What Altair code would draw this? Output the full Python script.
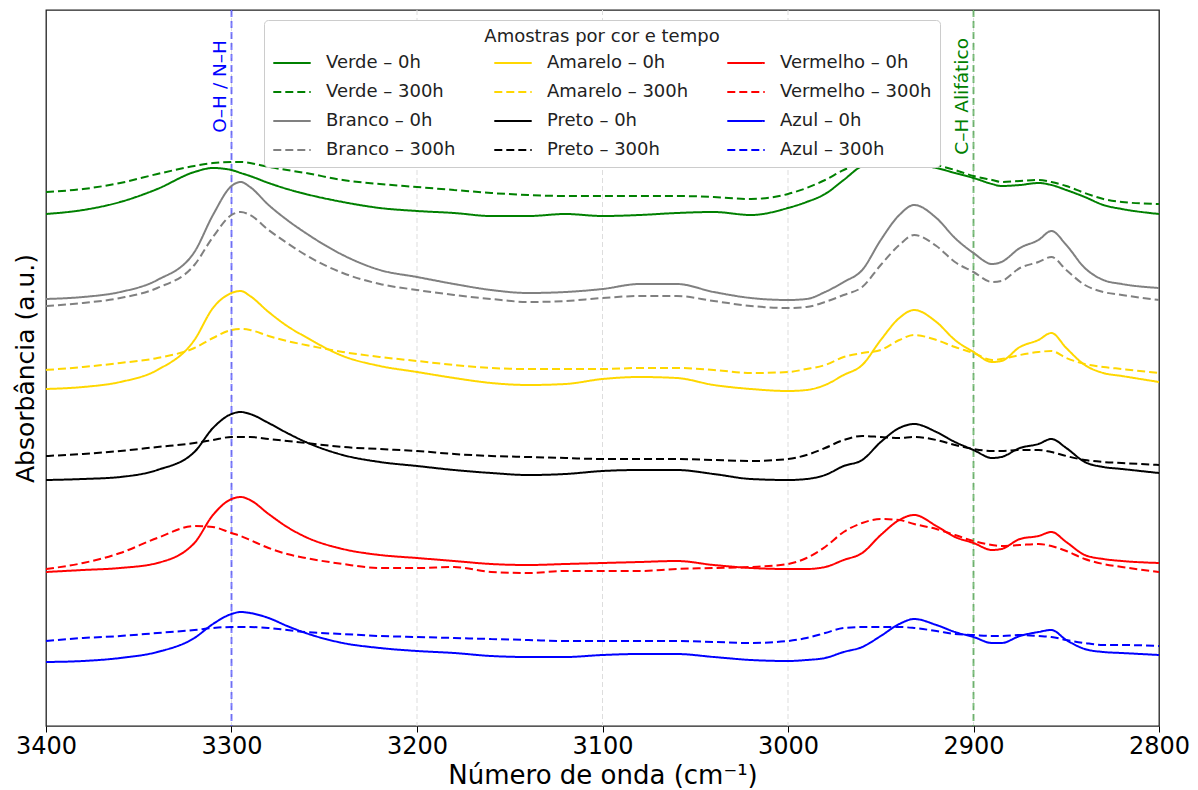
import altair as alt
import pandas as pd

# Wavenumber sample points (cm^-1)
onda = [3400, 3380, 3360, 3340, 3320, 3310, 3300, 3295, 3290, 3280,
        3270, 3260, 3240, 3220, 3200, 3180, 3160, 3140, 3120, 3100,
        3080, 3060, 3040, 3020, 3000, 2990, 2980, 2970, 2960, 2950,
        2940, 2932, 2920, 2910, 2900, 2890, 2885, 2875, 2865, 2858,
        2850, 2840, 2830, 2820, 2800]

# Absorbance (a.u., stacked offsets as plotted)
verde_0h = [5.12, 5.16, 5.24, 5.37, 5.54, 5.58, 5.56, 5.53, 5.50, 5.43,
            5.37, 5.32, 5.24, 5.18, 5.15, 5.13, 5.10, 5.10, 5.12, 5.10,
            5.11, 5.13, 5.14, 5.11, 5.18, 5.24, 5.32, 5.46, 5.60, 5.64,
            5.64, 5.62, 5.58, 5.53, 5.48, 5.42, 5.40, 5.41, 5.43, 5.41,
            5.36, 5.29, 5.21, 5.17, 5.12]
verde_300h = [5.34, 5.37, 5.43, 5.52, 5.60, 5.63, 5.64, 5.64, 5.63, 5.59,
              5.56, 5.53, 5.46, 5.42, 5.39, 5.36, 5.33, 5.31, 5.30, 5.30,
              5.30, 5.30, 5.29, 5.27, 5.32, 5.38, 5.46, 5.56, 5.63, 5.66,
              5.66, 5.65, 5.61, 5.56, 5.50, 5.46, 5.44, 5.45, 5.46, 5.44,
              5.40, 5.33, 5.27, 5.24, 5.22]
branco_0h = [4.27, 4.29, 4.34, 4.46, 4.74, 5.11, 5.40, 5.44, 5.39, 5.21,
             5.06, 4.93, 4.71, 4.56, 4.49, 4.42, 4.36, 4.33, 4.34, 4.37,
             4.42, 4.42, 4.34, 4.28, 4.26, 4.27, 4.34, 4.44, 4.56, 4.86,
             5.11, 5.21, 5.08, 4.88, 4.73, 4.62, 4.64, 4.78, 4.86, 4.95,
             4.81, 4.58, 4.46, 4.42, 4.38]
branco_300h = [4.20, 4.23, 4.28, 4.38, 4.61, 4.89, 5.11, 5.14, 5.11, 4.96,
               4.83, 4.71, 4.53, 4.42, 4.36, 4.31, 4.27, 4.24, 4.25, 4.28,
               4.30, 4.30, 4.25, 4.20, 4.18, 4.19, 4.24, 4.31, 4.39, 4.61,
               4.81, 4.91, 4.80, 4.64, 4.54, 4.44, 4.45, 4.58, 4.64, 4.69,
               4.56, 4.41, 4.34, 4.31, 4.26]
amarelo_0h = [3.37, 3.39, 3.44, 3.56, 3.86, 4.18, 4.33, 4.35, 4.30, 4.14,
              4.00, 3.89, 3.70, 3.60, 3.54, 3.48, 3.43, 3.41, 3.42, 3.47,
              3.49, 3.48, 3.41, 3.37, 3.35, 3.36, 3.41, 3.51, 3.61, 3.86,
              4.08, 4.16, 4.04, 3.86, 3.74, 3.64, 3.65, 3.79, 3.86, 3.93,
              3.78, 3.61, 3.53, 3.50, 3.44]
amarelo_300h = [3.56, 3.59, 3.63, 3.68, 3.78, 3.88, 3.96, 3.97, 3.96, 3.90,
                3.85, 3.81, 3.74, 3.69, 3.65, 3.61, 3.58, 3.57, 3.57, 3.57,
                3.58, 3.58, 3.56, 3.53, 3.54, 3.57, 3.61, 3.69, 3.73, 3.76,
                3.86, 3.91, 3.86, 3.79, 3.73, 3.66, 3.67, 3.71, 3.74, 3.75,
                3.68, 3.62, 3.59, 3.57, 3.53]
preto_0h = [2.46, 2.47, 2.49, 2.56, 2.74, 2.98, 3.12, 3.14, 3.12, 3.03,
            2.93, 2.84, 2.71, 2.64, 2.60, 2.56, 2.53, 2.51, 2.52, 2.55,
            2.56, 2.56, 2.52, 2.47, 2.46, 2.47, 2.51, 2.60, 2.66, 2.84,
            2.98, 3.02, 2.94, 2.84, 2.76, 2.68, 2.69, 2.78, 2.82, 2.87,
            2.78, 2.64, 2.59, 2.57, 2.53]
preto_300h = [2.70, 2.72, 2.75, 2.79, 2.83, 2.86, 2.89, 2.89, 2.89, 2.87,
              2.85, 2.83, 2.79, 2.77, 2.75, 2.72, 2.70, 2.69, 2.68, 2.67,
              2.67, 2.67, 2.66, 2.65, 2.67, 2.71, 2.78, 2.86, 2.90, 2.89,
              2.88, 2.89, 2.86, 2.81, 2.77, 2.75, 2.75, 2.76, 2.76, 2.74,
              2.70, 2.66, 2.64, 2.63, 2.61]
vermelho_0h = [1.54, 1.56, 1.58, 1.63, 1.83, 2.11, 2.27, 2.29, 2.26, 2.12,
               1.99, 1.89, 1.77, 1.71, 1.68, 1.65, 1.62, 1.61, 1.62, 1.63,
               1.64, 1.65, 1.61, 1.58, 1.57, 1.57, 1.59, 1.66, 1.73, 1.91,
               2.06, 2.11, 2.00, 1.89, 1.83, 1.76, 1.77, 1.87, 1.90, 1.94,
               1.84, 1.71, 1.67, 1.65, 1.63]
vermelho_300h = [1.57, 1.63, 1.73, 1.88, 2.00, 1.99, 1.93, 1.90, 1.86, 1.78,
                 1.72, 1.68, 1.62, 1.58, 1.58, 1.59, 1.54, 1.53, 1.55, 1.55,
                 1.55, 1.57, 1.58, 1.59, 1.62, 1.68, 1.79, 1.94, 2.03, 2.07,
                 2.06, 2.02, 1.97, 1.91, 1.85, 1.81, 1.80, 1.81, 1.82, 1.80,
                 1.75, 1.67, 1.62, 1.59, 1.54]
azul_0h = [0.64, 0.65, 0.68, 0.74, 0.88, 1.02, 1.12, 1.14, 1.13, 1.08,
           1.00, 0.93, 0.83, 0.78, 0.75, 0.73, 0.70, 0.69, 0.69, 0.71,
           0.72, 0.72, 0.69, 0.66, 0.65, 0.66, 0.68, 0.74, 0.79, 0.90,
           1.02, 1.07, 1.01, 0.94, 0.89, 0.83, 0.83, 0.90, 0.94, 0.96,
           0.86, 0.77, 0.74, 0.73, 0.71]
azul_300h = [0.85, 0.88, 0.90, 0.93, 0.96, 0.98, 0.99, 0.99, 0.99, 0.98,
             0.96, 0.94, 0.92, 0.90, 0.89, 0.88, 0.87, 0.86, 0.85, 0.85,
             0.85, 0.85, 0.84, 0.83, 0.85, 0.88, 0.93, 0.98, 0.99, 0.99,
             0.99, 0.98, 0.95, 0.92, 0.91, 0.90, 0.90, 0.91, 0.90, 0.89,
             0.86, 0.83, 0.81, 0.81, 0.80]

series = {
    "Verde – 0h": verde_0h, "Verde – 300h": verde_300h,
    "Branco – 0h": branco_0h, "Branco – 300h": branco_300h,
    "Amarelo – 0h": amarelo_0h, "Amarelo – 300h": amarelo_300h,
    "Preto – 0h": preto_0h, "Preto – 300h": preto_300h,
    "Vermelho – 0h": vermelho_0h, "Vermelho – 300h": vermelho_300h,
    "Azul – 0h": azul_0h, "Azul – 300h": azul_300h,
}

legend_order = list(series.keys())
cor_base = {"Verde": "green", "Branco": "gray", "Amarelo": "gold",
            "Preto": "black", "Vermelho": "red", "Azul": "blue"}
legend_colors = [cor_base[s.split(" – ")[0]] for s in legend_order]
legend_dashes = [[8, 4] if s.endswith("300h") else [1, 0] for s in legend_order]

rows = []
for nome, vals in series.items():
    for xo, v in zip(onda, vals):
        rows.append({"onda": xo, "absorbancia": v, "serie": nome})
df = pd.DataFrame(rows)

x_ticks = [3400, 3300, 3200, 3100, 3000, 2900, 2800]
grid_ticks = x_ticks[1:-1]

xscale = alt.Scale(domain=[2800, 3400], reverse=True, nice=False, zero=False)
yscale = alt.Scale(domain=[0, 7.16], nice=False, zero=False)

legend_title = "Amostras por cor e tempo"

grid = alt.Chart(pd.DataFrame({"onda": grid_ticks})).mark_rule(
    color="#dddddd", strokeDash=[5, 3], strokeWidth=1
).encode(x=alt.X("onda:Q", scale=xscale))

lines = alt.Chart(df).mark_line(strokeWidth=2, interpolate="monotone").encode(
    x=alt.X("onda:Q", scale=xscale,
            axis=alt.Axis(values=x_ticks, format="d", title="Número de onda (cm⁻¹)",
                          grid=False, domain=False, tickSize=6, tickColor="black",
                          labelFlush=False, labelFontSize=24, labelColor="black",
                          labelPadding=2, titleFontSize=26, titleFontWeight="normal",
                          titlePadding=4, titleColor="black")),
    y=alt.Y("absorbancia:Q", scale=yscale,
            axis=alt.Axis(title="Absorbância (a.u.)", labels=False, ticks=False,
                          grid=False, domain=False, titleFontSize=25,
                          titleFontWeight="normal", titlePadding=8, titleColor="black")),
    color=alt.Color("serie:N",
                    scale=alt.Scale(domain=legend_order, range=legend_colors),
                    legend=alt.Legend(title=legend_title, orient="none",
                                      legendX=218, legendY=10, columns=3,
                                      symbolType="stroke", symbolSize=1400,
                                      symbolStrokeWidth=2, labelFontSize=18,
                                      labelColor="#222", labelLimit=300,
                                      labelOffset=14, columnPadding=34,
                                      rowPadding=-12, titleFontSize=18,
                                      titleLimit=600,
                                      titleFontWeight="normal", titleAnchor="middle",
                                      titleColor="#222", titlePadding=-3,
                                      padding=8, strokeColor="#cccccc",
                                      fillColor="white", cornerRadius=4)),
    strokeDash=alt.StrokeDash("serie:N",
                              scale=alt.Scale(domain=legend_order, range=legend_dashes),
                              legend=alt.Legend(title=legend_title,
                                                orient="none", legendX=218, legendY=10,
                                                columns=3)),
    detail="serie:N",
)

ref_onda = [3300, 2900]
ref_rotulo = ["O–H / N–H", "C–H Alifático"]
ref_cor = ["blue", "green"]
ref_topo = [30, 28]

rules = []
texts = []
for xo, rot, c, ytop in zip(ref_onda, ref_rotulo, ref_cor, ref_topo):
    rules.append(alt.Chart(pd.DataFrame({"onda": [xo]})).mark_rule(
        color=c, strokeDash=[7, 4], strokeWidth=2, opacity=0.5
    ).encode(x=alt.X("onda:Q", scale=xscale)))
    texts.append(alt.Chart(pd.DataFrame({"onda": [xo], "rotulo": [rot]})).mark_text(
        angle=270, align="right", baseline="middle", fontSize=18.5, color=c,
        xOffset=-12, font="DejaVu Sans"
    ).encode(x=alt.X("onda:Q", scale=xscale), y=alt.value(ytop), text="rotulo:N"))

chart = alt.layer(grid, *rules, lines, *texts).properties(
    width=1113, height=716,
    padding={"left": 38, "top": 2, "right": 31, "bottom": 64},
    autosize=alt.AutoSizeParams(type="none"),
).configure(font="DejaVu Sans").configure_view(
    stroke="#222222", strokeWidth=1.3
)

chart.save("out.html", embed_options={"renderer": "svg", "actions": False})
